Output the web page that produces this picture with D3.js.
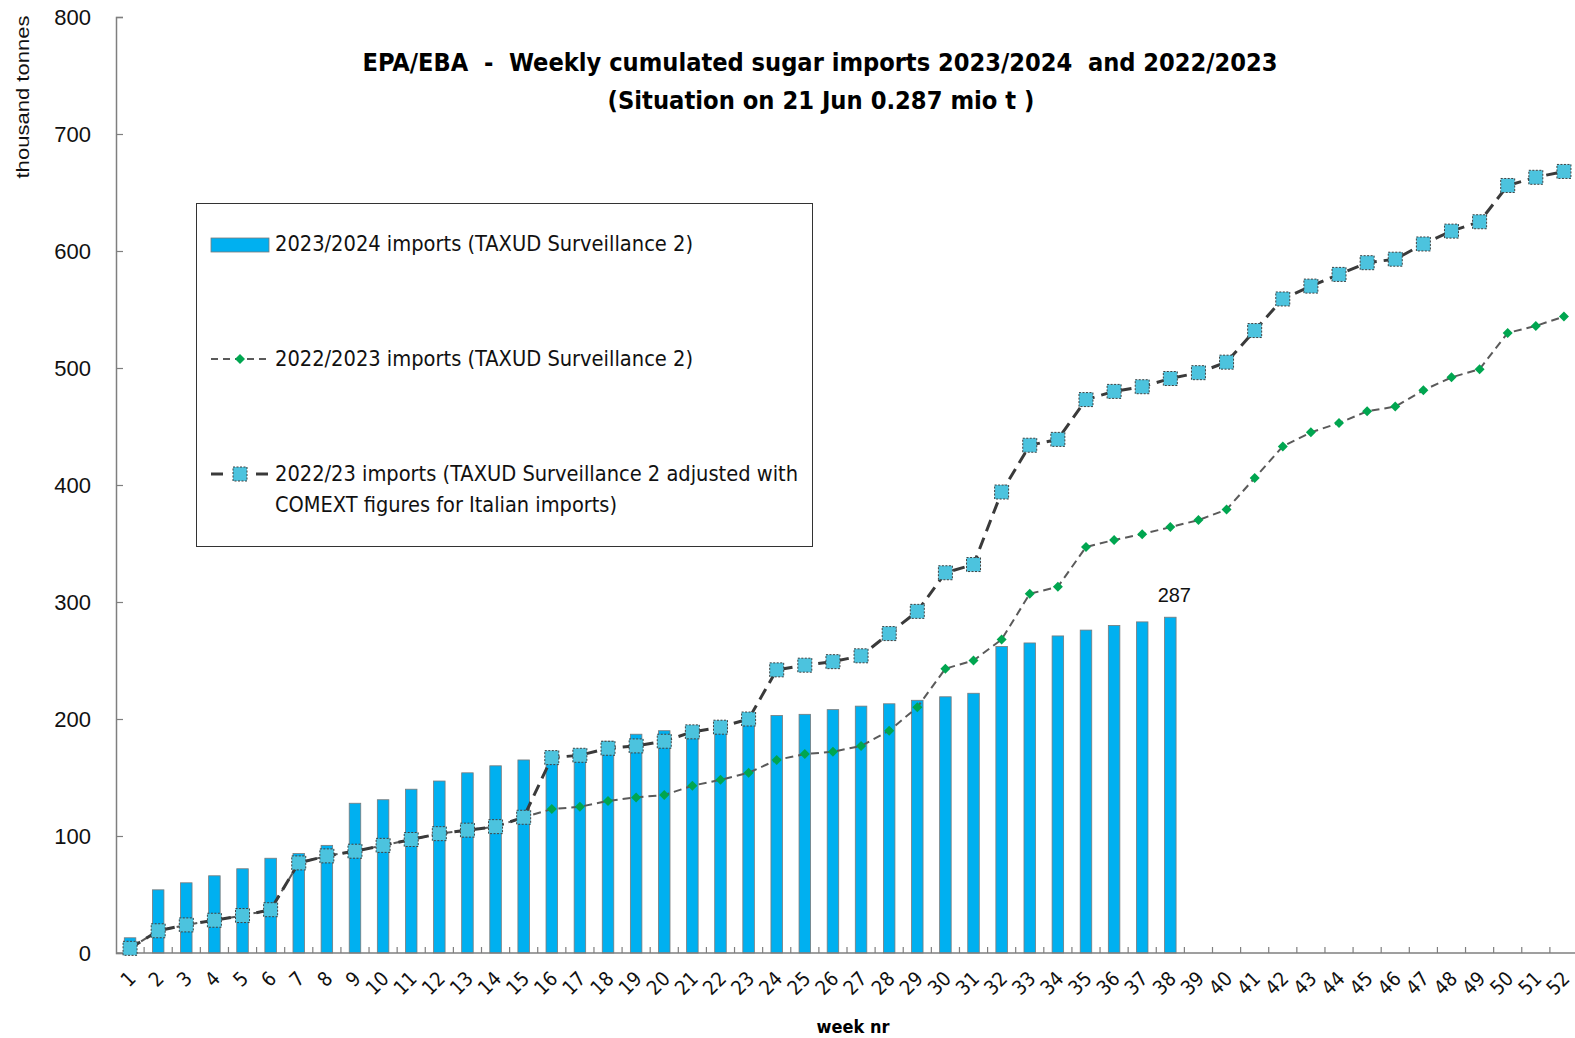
<!DOCTYPE html>
<html>
<head>
<meta charset="utf-8">
<script src="https://cdn.jsdelivr.net/npm/d3@7"></script>
<style>
  html, body { margin: 0; padding: 0; background: #fff; }
  svg { display: block; }
  text { white-space: pre; }
  .narrow { font-family: "DejaVu Sans Condensed", "DejaVu Sans", sans-serif; font-stretch: condensed; }
  .arial { font-family: "Liberation Sans", Arial, sans-serif; }
</style>
</head>
<body>
<svg id="chart" width="1575" height="1038"></svg>
<script>
// Week numbers of the marketing year
const weeks = d3.range(1, 53);

// 2023/2024 cumulated imports (TAXUD Surveillance 2), thousand tonnes, weeks 1-38
const imports2324 = [13, 54, 60, 66, 72, 81, 85, 92, 128, 131, 140, 147, 154, 160, 165, 168, 171, 181, 187, 190,
  194, 197, 201, 203, 204, 208, 211, 213, 216, 219, 222, 262, 265, 271, 276, 280, 283, 287];

// 2022/2023 cumulated imports (TAXUD Surveillance 2)
const imports2223 = [4, 19, 24, 28, 32, 37, 77, 83, 87, 92, 97, 102, 105, 108, 116, 123, 125, 130, 133, 135,
  143, 148, 154, 165, 170, 172, 177, 190, 210, 243, 250, 268, 307, 313, 347, 353, 358, 364, 370, 379,
  406, 433, 445, 453, 463, 467, 481, 492, 499, 530, 536, 544];

// 2022/23 imports adjusted with COMEXT figures for Italian imports
const imports2223Adj = [4, 19, 24, 28, 32, 37, 77, 83, 87, 92, 97, 102, 105, 108, 116, 167, 169, 175, 177, 181,
  189, 193, 200, 242, 246, 249, 254, 273, 292, 325, 332, 394, 434, 439, 473, 480, 484, 491, 496, 505,
  532, 559, 570, 580, 590, 593, 606, 617, 625, 656, 663, 668];

const yTicks = [0, 100, 200, 300, 400, 500, 600, 700, 800];

const legendLabels = [
  ["2023/2024 imports (TAXUD Surveillance 2)"],
  ["2022/2023 imports (TAXUD Surveillance 2)"],
  ["2022/23 imports (TAXUD Surveillance 2 adjusted with", "COMEXT figures for Italian imports)"]
];

const titleLines = [
  "EPA/EBA  -  Weekly cumulated sugar imports 2023/2024  and 2022/2023",
  "(Situation on 21 Jun 0.287 mio t )"
];

const C = {
  bar: "#00b0f0", barStroke: "#7a7a7a",
  square: "#4cc3de", squareStroke: "#404040", adjLine: "#3a3a3a",
  diamond: "#00a650", taxLine: "#5a5a5a", axis: "#7f7f7f", text: "#111"
};

const svg = d3.select("#chart");
const plot = { left: 116, right: 1578, top: 17, bottom: 953 };

const x = d3.scaleBand().domain(weeks).range([plot.left, plot.right]).paddingInner(0.59).paddingOuter(0.295);
const xc = d => x(d) + x.bandwidth() / 2;
const y = d3.scaleLinear().domain([0, 800]).range([plot.bottom, plot.top]);

// Bars: 2023/2024
svg.append("g").selectAll("rect")
  .data(imports2324)
  .join("rect")
  .attr("x", (d, i) => x(weeks[i]))
  .attr("y", d => y(d))
  .attr("width", x.bandwidth())
  .attr("height", d => y(0) - y(d))
  .attr("fill", C.bar)
  .attr("stroke", C.barStroke)
  .attr("stroke-width", 0.8);

// Value label on the last bar
const lastIdx = imports2324.length - 1;
svg.append("text")
  .attr("class", "arial")
  .attr("x", xc(weeks[lastIdx]) + 4)
  .attr("y", y(imports2324[lastIdx]) - 15)
  .attr("text-anchor", "middle")
  .attr("font-size", 20)
  .attr("fill", C.text)
  .text(imports2324[lastIdx]);

// Axes
const yAxis = d3.axisLeft(y).tickValues(yTicks).tickSize(-7).tickPadding(25);
const gy = svg.append("g").attr("transform", `translate(${plot.left},0)`).call(yAxis);
gy.select(".domain").attr("stroke", C.axis).attr("stroke-width", 1.5);
gy.selectAll(".tick line").attr("stroke", C.axis).attr("stroke-width", 1.2);
gy.selectAll(".tick text").attr("class", "arial").attr("font-size", 22).attr("fill", C.text);

const gx = svg.append("g").attr("transform", `translate(0,${plot.bottom})`);
gx.append("line").attr("x1", plot.left).attr("x2", plot.right).attr("y1", 0).attr("y2", 0)
  .attr("stroke", C.axis).attr("stroke-width", 1.5);
const step = x.step();
gx.selectAll("line.tk")
  .data(weeks.slice(1))
  .join("line")
  .attr("class", "tk")
  .attr("x1", d => xc(d) - step / 2).attr("x2", d => xc(d) - step / 2)
  .attr("y1", 0).attr("y2", -6)
  .attr("stroke", C.axis).attr("stroke-width", 1.2);
gx.selectAll("text")
  .data(weeks)
  .join("text")
  .attr("class", "narrow")
  .attr("font-size", 20)
  .attr("fill", C.text)
  .attr("text-anchor", "end")
  .attr("transform", d => `translate(${xc(d) + 7},${27}) rotate(-45)`)
  .text(d => d);

// 2022/2023 line with diamonds
const line = d3.line().x((d, i) => xc(weeks[i])).y(d => y(d));
svg.append("path")
  .datum(imports2223)
  .attr("d", line)
  .attr("fill", "none")
  .attr("stroke", C.taxLine)
  .attr("stroke-width", 2)
  .attr("stroke-dasharray", "8,5");
const diamond = d3.symbol().type(d3.symbolSquare).size(50);
svg.append("g").selectAll("path")
  .data(imports2223)
  .join("path")
  .attr("d", diamond)
  .attr("transform", (d, i) => `translate(${xc(weeks[i])},${y(d)}) rotate(45)`)
  .attr("fill", C.diamond);

// Adjusted 2022/23 line with squares
svg.append("path")
  .datum(imports2223Adj)
  .attr("d", line)
  .attr("fill", "none")
  .attr("stroke", C.adjLine)
  .attr("stroke-width", 3)
  .attr("stroke-dasharray", "12,7");
svg.append("g").selectAll("rect")
  .data(imports2223Adj)
  .join("rect")
  .attr("x", (d, i) => xc(weeks[i]) - 7)
  .attr("y", d => y(d) - 7)
  .attr("width", 14).attr("height", 14)
  .attr("fill", C.square)
  .attr("stroke", C.squareStroke)
  .attr("stroke-width", 1)
  .attr("stroke-dasharray", "2,1.5");

// Title
const title = svg.append("g").attr("class", "narrow").attr("font-weight", "bold").attr("fill", "#000");
title.append("text").attr("x", 820).attr("y", 71).attr("text-anchor", "middle").attr("font-size", 24)
  .attr("textLength", 915).attr("lengthAdjust", "spacingAndGlyphs").text(titleLines[0]);
title.append("text").attr("x", 821).attr("y", 109).attr("text-anchor", "middle").attr("font-size", 24)
  .attr("textLength", 427).attr("lengthAdjust", "spacingAndGlyphs").text(titleLines[1]);

// Y axis title
svg.append("text")
  .attr("class", "arial")
  .attr("transform", "translate(29,97) rotate(-90)")
  .attr("text-anchor", "middle")
  .attr("font-size", 19)
  .attr("fill", C.text)
  .attr("textLength", 163).attr("lengthAdjust", "spacingAndGlyphs")
  .text("thousand tonnes");

// X axis title
svg.append("text")
  .attr("class", "narrow")
  .attr("x", 853).attr("y", 1033)
  .attr("text-anchor", "middle")
  .attr("font-size", 18)
  .attr("font-weight", "bold")
  .attr("fill", "#000")
  .text("week nr");

// Legend
const lg = svg.append("g");
lg.append("rect").attr("x", 196.5).attr("y", 203.5).attr("width", 616).attr("height", 343)
  .attr("fill", "#fff").attr("stroke", "#333").attr("stroke-width", 1);
lg.append("rect").attr("x", 211).attr("y", 238).attr("width", 58).attr("height", 14)
  .attr("fill", C.bar).attr("stroke", C.barStroke).attr("stroke-width", 0.8);
lg.append("line").attr("x1", 211).attr("x2", 270).attr("y1", 359).attr("y2", 359)
  .attr("stroke", C.taxLine).attr("stroke-width", 2).attr("stroke-dasharray", "7,5");
lg.append("path").attr("d", diamond).attr("transform", "translate(240,359) rotate(45)").attr("fill", C.diamond);
[[211, 223], [256, 268]].forEach(([a, b]) => {
  lg.append("line").attr("x1", a).attr("x2", b).attr("y1", 474).attr("y2", 474)
    .attr("stroke", C.adjLine).attr("stroke-width", 3);
});
lg.append("rect").attr("x", 233).attr("y", 467).attr("width", 14).attr("height", 14)
  .attr("fill", C.square).attr("stroke", C.squareStroke).attr("stroke-width", 1).attr("stroke-dasharray", "2,1.5");

const legendText = [
  { y: 251, lines: legendLabels[0], w: [418] },
  { y: 366, lines: legendLabels[1], w: [418] },
  { y: 481, lines: legendLabels[2], w: [523, 342] }
];
legendText.forEach(e => {
  e.lines.forEach((t, j) => {
    lg.append("text").attr("class", "narrow")
      .attr("x", 275).attr("y", e.y + j * 31)
      .attr("font-size", 21).attr("fill", C.text)
      .attr("textLength", e.w[j]).attr("lengthAdjust", "spacingAndGlyphs")
      .text(t);
  });
});
</script>
</body>
</html>
